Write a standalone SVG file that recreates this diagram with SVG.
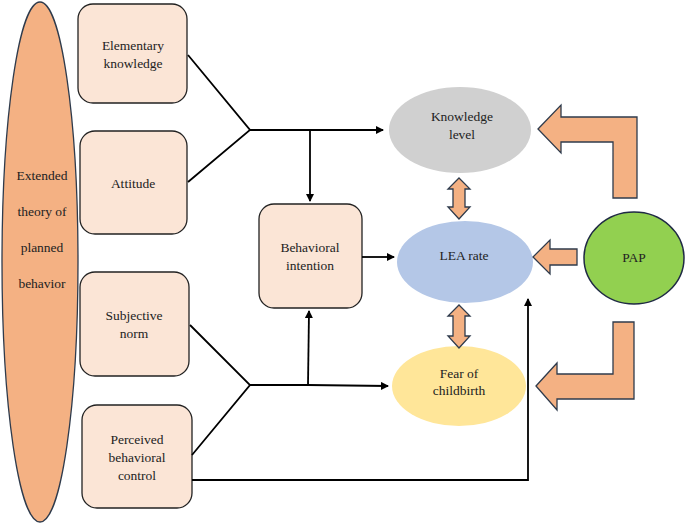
<svg xmlns="http://www.w3.org/2000/svg" width="685" height="526" viewBox="0 0 685 526">
<defs>
<style>
text{font-family:"Liberation Serif","Times New Roman",serif;font-size:13.5px;fill:#222;text-anchor:middle}
.box{fill:#fbe5d6;stroke:#222;stroke-width:1.3}
.ln{stroke:#000;stroke-width:1.8;fill:none}
.big{fill:#f4b183;stroke:#2f3b4c;stroke-width:1.3}
</style>
<marker id="ah" markerWidth="8" markerHeight="8" refX="7" refY="4" orient="auto" markerUnits="userSpaceOnUse"><path d="M0,0 L8,4 L0,8 Z" fill="#000"/></marker>
</defs>
<rect width="685" height="526" fill="#fff"/>
<g id="etpb"><ellipse cx="40" cy="262" rx="38" ry="260" class="big" stroke="#222"/>
<text x="42" y="180">Extended</text><text x="42" y="216">theory of</text><text x="42" y="252">planned</text><text x="42" y="288">behavior</text></g>
<g id="elem"><rect x="78" y="4" width="109" height="99" rx="15" class="box"/><text x="133" y="50">Elementary</text><text x="133" y="68">knowledge</text></g>
<g id="att"><rect x="80" y="131" width="107" height="103" rx="15" class="box"/><text x="133" y="188">Attitude</text></g>
<g id="subj"><rect x="80" y="272" width="109" height="104" rx="15" class="box"/><text x="134" y="320">Subjective</text><text x="134" y="338">norm</text></g>
<g id="pbc"><rect x="82" y="405" width="110" height="103" rx="15" class="box"/><text x="137" y="444">Perceived</text><text x="137" y="462">behavioral</text><text x="137" y="480">control</text></g>
<g id="bi"><rect x="259" y="204" width="103" height="104" rx="15" class="box"/><text x="310" y="252">Behavioral</text><text x="310" y="270">intention</text></g>
<g id="know"><ellipse cx="460" cy="130" rx="71" ry="43" fill="#d0d0d0"/><text x="462" y="121">Knowledge</text><text x="462" y="139">level</text></g>
<g id="lea"><ellipse cx="465" cy="262" rx="68" ry="41" fill="#b4c7e7"/><text x="464" y="260">LEA rate</text></g>
<g id="fear"><ellipse cx="459" cy="386" rx="67" ry="40" fill="#ffe699"/><text x="459" y="378">Fear of</text><text x="459" y="395">childbirth</text></g>
<g id="pap"><ellipse cx="634" cy="258" rx="50" ry="46" fill="#92d050" stroke="#1f2a44" stroke-width="1.5"/><text x="634" y="262">PAP</text></g>
<g id="connectors">
<path class="ln" d="M188,55 L250,130 L188,182 M250,130 L310,130"/>
<path class="ln" d="M310,130 L383,130" marker-end="url(#ah)"/>
<path class="ln" d="M310,130 L310,201" marker-end="url(#ah)"/>
<path class="ln" d="M362,257 L394,257" marker-end="url(#ah)"/>
<path class="ln" d="M190,325 L250,385 L192,455 M250,385 L308,385"/>
<path class="ln" d="M308,385 L388,386" marker-end="url(#ah)"/>
<path class="ln" d="M308,385 L309,311" marker-end="url(#ah)"/>
<path class="ln" d="M192,480 L528,480 L528,299" marker-end="url(#ah)"/>
<path class="big" d="M459,178 L470,189 L465,189 L465,207 L470,207 L459,219 L448,207 L453,207 L453,189 L448,189 Z"/>
<path class="big" d="M459,305 L470,316 L465,316 L465,336 L470,336 L459,348 L448,336 L453,336 L453,316 L448,316 Z"/>
<path class="big" d="M538,129 L561,105 L561,117 L637,117 L637,198 L613,198 L613,142 L561,142 L561,153 Z"/>
<path class="big" d="M533,257 L550,240 L550,249 L577,249 L577,265 L550,265 L550,274 Z"/>
<path class="big" d="M536,386 L557,363 L557,374 L613,374 L613,322 L634,322 L634,399 L557,399 L557,410 Z"/>
</g>
</svg>
